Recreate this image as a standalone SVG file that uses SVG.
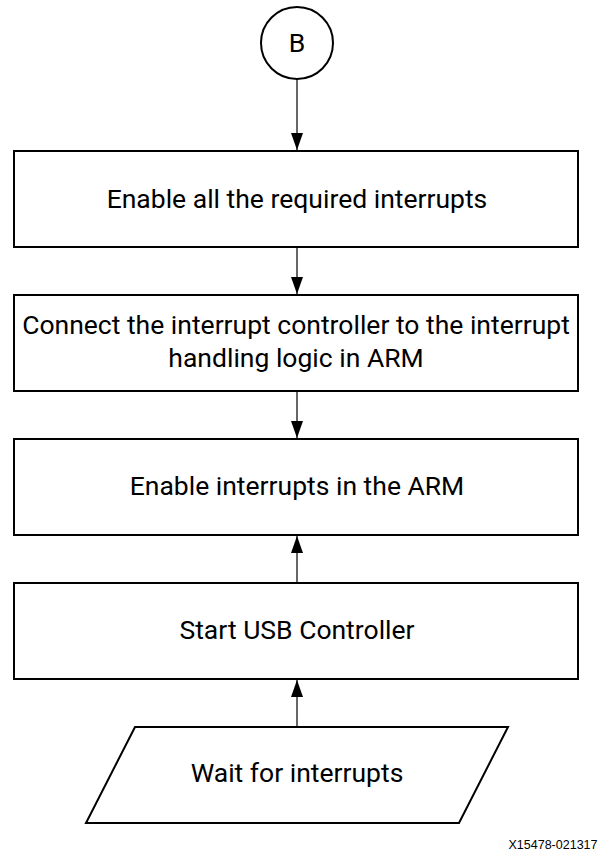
<svg xmlns="http://www.w3.org/2000/svg" width="600" height="855" viewBox="0 0 600 855">
<style>
.node{fill:#fff;stroke:#000;stroke-width:2}
.lbl{font-family:Roboto,"Liberation Sans",sans-serif;font-size:26.5px;fill:#000;text-anchor:middle}
.edge{stroke:#000;stroke-width:1.2;fill:none}
.foot{font-family:"Liberation Sans",Arial,sans-serif;font-size:12.5px;fill:#000;text-anchor:end}
</style>
<defs>
<marker id="arr" viewBox="0 0 17 12" refX="17" refY="6" markerWidth="17" markerHeight="12" markerUnits="userSpaceOnUse" orient="auto">
<path d="M0,0 L17,6 L0,12 Z" fill="#000"/>
</marker>
</defs>
<rect width="600" height="855" fill="#fff"/>
<g id="connectors">
<line class="edge" x1="297" y1="79" x2="297" y2="150" marker-end="url(#arr)"/>
<line class="edge" x1="297" y1="247" x2="297" y2="294" marker-end="url(#arr)"/>
<line class="edge" x1="297" y1="391" x2="297" y2="438" marker-end="url(#arr)"/>
<line class="edge" x1="297" y1="583" x2="297" y2="536" marker-end="url(#arr)"/>
<line class="edge" x1="297" y1="727" x2="297" y2="680" marker-end="url(#arr)"/>
</g>
<g id="nodeB">
<circle class="node" cx="297" cy="43" r="36"/>
<text class="lbl" x="297" y="52">B</text>
</g>
<g id="node1">
<rect class="node" x="14" y="151" width="564" height="96"/>
<text class="lbl" x="297" y="208">Enable all the required interrupts</text>
</g>
<g id="node2">
<rect class="node" x="14" y="295" width="564" height="96"/>
<text class="lbl" x="296" y="334">Connect the interrupt controller to the interrupt</text>
<text class="lbl" x="296" y="367">handling logic in ARM</text>
</g>
<g id="node3">
<rect class="node" x="14" y="439" width="564" height="96"/>
<text class="lbl" x="297" y="495">Enable interrupts in the ARM</text>
</g>
<g id="node4">
<rect class="node" x="14" y="583" width="564" height="96"/>
<text class="lbl" x="297" y="639">Start USB Controller</text>
</g>
<g id="node5">
<polygon class="node" points="135,727 508,727 459,823 86,823"/>
<text class="lbl" x="297" y="782">Wait for interrupts</text>
</g>
<text class="foot" x="597.5" y="849">X15478-021317</text>
</svg>
